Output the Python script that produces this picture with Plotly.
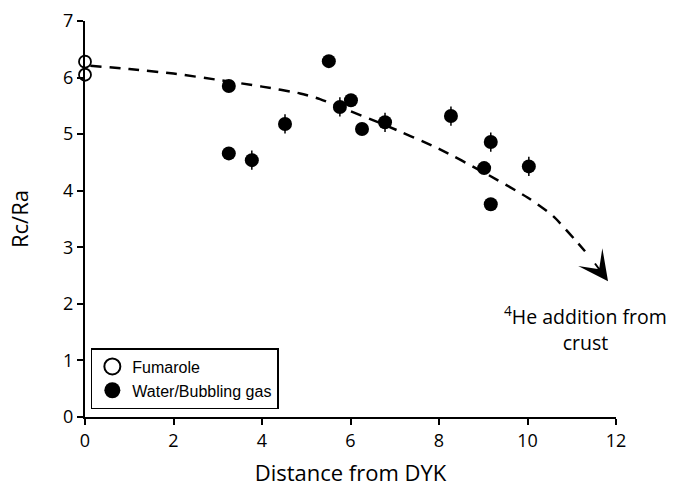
import plotly.graph_objects as go

# Fumarole samples
fum_x = [0, 0]
fum_y = [6.28, 6.05]

# Water / bubbling gas samples
wat_x = [3.25, 3.25, 3.77, 4.52, 5.51, 5.76, 6.01, 6.26, 6.78, 8.27, 9.02, 9.17, 9.17, 10.03]
wat_y = [5.85, 4.66, 4.54, 5.18, 6.29, 5.48, 5.60, 5.09, 5.21, 5.32, 4.40, 4.86, 3.76, 4.43]
wat_err = [0, 0, 0.17, 0.17, 0, 0.17, 0, 0, 0.17, 0.17, 0, 0.17, 0, 0.17]

# Dashed trend curve
trend_x = [0.12, 1, 2, 3, 4, 4.86, 5.31, 5.76, 6.78, 8, 9.02, 10, 10.58, 11.3]
trend_y = [6.21, 6.15, 6.07, 5.96, 5.84, 5.72, 5.62, 5.48, 5.16, 4.74, 4.32, 3.88, 3.55, 2.93]
arrow_tail = (11.50, 2.74)
arrow_tip = (11.82, 2.40)

fig = go.Figure()
fig.add_trace(go.Scatter(
    x=trend_x, y=trend_y, mode="lines",
    line=dict(color="black", width=2.5, dash="11px,8px", shape="spline", smoothing=0.6),
    showlegend=False, hoverinfo="skip"))
fig.add_annotation(
    x=arrow_tip[0], y=arrow_tip[1], ax=arrow_tail[0], ay=arrow_tail[1],
    xref="x", yref="y", axref="x", ayref="y",
    showarrow=True, arrowhead=3, arrowsize=2.5, arrowwidth=2,
    arrowcolor="black", text="")
fig.add_trace(go.Scatter(
    x=fum_x, y=fum_y, mode="markers", name="Fumarole", showlegend=False,
    marker=dict(size=12, color="white", line=dict(color="black", width=1.8)),
    cliponaxis=False))
fig.add_trace(go.Scatter(
    x=wat_x, y=wat_y, mode="markers", name="Water/Bubbling gas", showlegend=False,
    marker=dict(size=14, color="black", line=dict(width=0)),
    error_y=dict(type="data", array=wat_err, color="black", thickness=1.5, width=0),
    cliponaxis=False))
# legend entries (larger symbols, as in the reference legend)
fig.add_trace(go.Scatter(
    x=[None], y=[None], mode="markers", name="Fumarole", legendgroup="a",
    marker=dict(size=16, color="white", line=dict(color="black", width=2))))
fig.add_trace(go.Scatter(
    x=[None], y=[None], mode="markers", name="Water/Bubbling gas", legendgroup="b",
    marker=dict(size=17, color="black", line=dict(width=0))))

fig.add_annotation(
    x=11.32, y=1.57, xref="x", yref="y",
    text="<sup>4</sup>He addition from<br>crust", showarrow=False,
    font=dict(family="Open Sans", size=19.5, color="black"), align="center")

axis_common = dict(
    showline=True, linecolor="black", linewidth=2, showgrid=False, zeroline=False,
    ticks="outside", ticklen=6, tickwidth=1.5, tickcolor="black", automargin=False,
    tickfont=dict(family="Open Sans", size=18, color="black"),
)
fig.update_xaxes(range=[0, 12], dtick=2, title=dict(text="Distance from DYK",
                 font=dict(family="Open Sans", size=22, color="black"), standoff=16),
                 **axis_common)
fig.update_yaxes(range=[0, 7], dtick=1, title=dict(text="Rc/Ra",
                 font=dict(family="Open Sans", size=22, color="black"), standoff=28),
                 **axis_common)

fig.update_layout(
    width=681, height=487,
    margin=dict(l=85, r=65, t=21, b=70),
    plot_bgcolor="white", paper_bgcolor="white",
    legend=dict(x=0.011, y=0.02, xanchor="left", yanchor="bottom",
                bordercolor="black", borderwidth=1.5, bgcolor="white",
                font=dict(family="Liberation Sans", size=16, color="black"),
                itemwidth=30, tracegroupgap=0, traceorder="grouped"),
)

fig.write_html("out.html", config={"displayModeBar": False},
               post_script="document.body.style.margin='0';document.body.style.overflow='hidden';")
